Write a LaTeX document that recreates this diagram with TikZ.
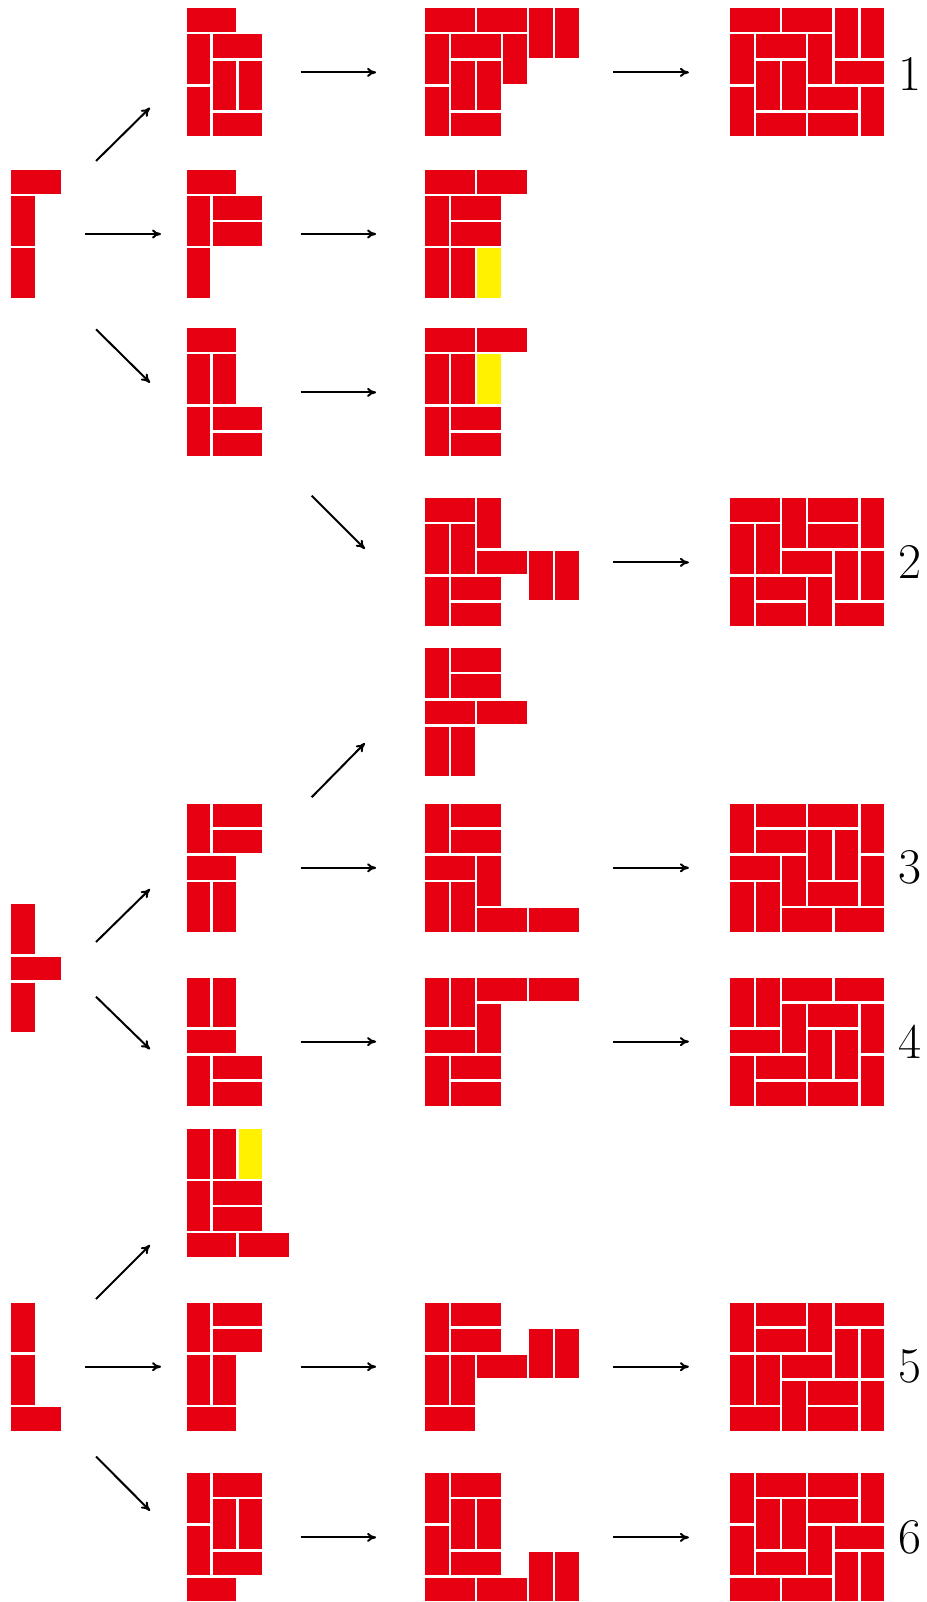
\documentclass[tikz,border=0pt]{standalone}
\usetikzlibrary{arrows.meta}
\definecolor{tred}{RGB}{230,0,18}
\definecolor{tyel}{RGB}{255,241,0}
\newcommand{\dins}{0.048}
\newcommand{\domH}[3][tred]{\fill[#1] (#2+\dins,#3+\dins) rectangle (#2+2-\dins,#3+1-\dins);}
\newcommand{\domV}[3][tred]{\fill[#1] (#2+\dins,#3+\dins) rectangle (#2+1-\dins,#3+2-\dins);}
\tikzset{
  tilegrid/.style 2 args={shift={(#1,#2)},x=26.1pt,y=-26.1pt},
  arr/.style={line width=2pt,-{To[length=9pt,width=9pt]}},
  lbl/.style={font=\fontsize{50}{60}\selectfont,inner sep=0pt,anchor=center},
}
\begin{document}
\begin{tikzpicture}[x=1pt,y=-1pt]
\useasboundingbox (0,0) rectangle (926,1602);
% ---------- group 1 ----------
\begin{scope}[tilegrid={9.75}{168.75}]
 \domH{0}{0}\domV{0}{1}\domV{0}{3}
\end{scope}
\begin{scope}[tilegrid={185.4}{7.1}]
 \domH{0}{0}\domV{0}{1}\domH{1}{1}\domV{1}{2}\domV{2}{2}\domV{0}{3}\domH{1}{4}
\end{scope}
\begin{scope}[tilegrid={185.4}{168.75}]
 \domH{0}{0}\domV{0}{1}\domH{1}{1}\domH{1}{2}\domV{0}{3}
\end{scope}
\begin{scope}[tilegrid={185.4}{327.1}]
 \domH{0}{0}\domV{0}{1}\domV{1}{1}\domV{0}{3}\domH{1}{3}\domH{1}{4}
\end{scope}
\begin{scope}[tilegrid={423.7}{7.1}]
 \domH{0}{0}\domV{0}{1}\domH{1}{1}\domV{1}{2}\domV{2}{2}\domV{0}{3}\domH{1}{4}
 \domH{2}{0}\domV{3}{1}\domV{4}{0}\domV{5}{0}
\end{scope}
\begin{scope}[tilegrid={423.7}{168.75}]
 \domH{0}{0}\domH{2}{0}\domV{0}{1}\domH{1}{1}\domH{1}{2}\domV{0}{3}\domV{1}{3}\domV[tyel]{2}{3}
\end{scope}
\begin{scope}[tilegrid={423.7}{327.1}]
 \domH{0}{0}\domH{2}{0}\domV{0}{1}\domV{1}{1}\domV[tyel]{2}{1}\domV{0}{3}\domH{1}{3}\domH{1}{4}
\end{scope}
\begin{scope}[tilegrid={728.9}{7.1}]
 \domH{0}{0}\domH{2}{0}\domV{4}{0}\domV{5}{0}\domV{0}{1}\domH{1}{1}\domV{3}{1}\domH{4}{2}
 \domV{1}{2}\domV{2}{2}\domV{0}{3}\domH{3}{3}\domV{5}{3}\domH{1}{4}\domH{3}{4}
\end{scope}
\begin{scope}[tilegrid={423.7}{497.1}]
 \domH{0}{0}\domV{2}{0}\domV{0}{1}\domV{1}{1}\domH{2}{2}\domV{4}{2}\domV{5}{2}\domV{0}{3}\domH{1}{3}\domH{1}{4}
\end{scope}
\begin{scope}[tilegrid={728.9}{497.1}]
 \domH{0}{0}\domV{2}{0}\domH{3}{0}\domV{5}{0}\domV{0}{1}\domV{1}{1}\domH{3}{1}\domH{2}{2}
 \domV{4}{2}\domV{5}{2}\domV{0}{3}\domH{1}{3}\domV{3}{3}\domH{1}{4}\domH{4}{4}
\end{scope}
% ---------- group 2 ----------
\begin{scope}[tilegrid={423.7}{647.1}]
 \domV{0}{0}\domH{1}{0}\domH{1}{1}\domH{0}{2}\domH{2}{2}\domV{0}{3}\domV{1}{3}
\end{scope}
\begin{scope}[tilegrid={9.75}{903.1}]
 \domV{0}{0}\domH{0}{2}\domV{0}{3}
\end{scope}
\begin{scope}[tilegrid={185.4}{802.5}]
 \domV{0}{0}\domH{1}{0}\domH{1}{1}\domH{0}{2}\domV{0}{3}\domV{1}{3}
\end{scope}
\begin{scope}[tilegrid={423.7}{802.5}]
 \domV{0}{0}\domH{1}{0}\domH{1}{1}\domH{0}{2}\domV{2}{2}\domV{0}{3}\domV{1}{3}\domH{2}{4}\domH{4}{4}
\end{scope}
\begin{scope}[tilegrid={728.9}{802.5}]
 \domV{0}{0}\domH{1}{0}\domH{3}{0}\domV{5}{0}\domH{1}{1}\domV{3}{1}\domV{4}{1}\domH{0}{2}
 \domV{2}{2}\domV{5}{2}\domV{0}{3}\domV{1}{3}\domH{3}{3}\domH{2}{4}\domH{4}{4}
\end{scope}
\begin{scope}[tilegrid={185.4}{976.3}]
 \domV{0}{0}\domV{1}{0}\domH{0}{2}\domV{0}{3}\domH{1}{3}\domH{1}{4}
\end{scope}
\begin{scope}[tilegrid={423.7}{976.3}]
 \domV{0}{0}\domV{1}{0}\domH{2}{0}\domH{4}{0}\domV{2}{1}\domH{0}{2}\domV{0}{3}\domH{1}{3}\domH{1}{4}
\end{scope}
\begin{scope}[tilegrid={728.9}{976.3}]
 \domV{0}{0}\domV{1}{0}\domH{2}{0}\domH{4}{0}\domV{2}{1}\domH{3}{1}\domV{5}{1}\domH{0}{2}
 \domV{3}{2}\domV{4}{2}\domV{0}{3}\domH{1}{3}\domV{5}{3}\domH{1}{4}\domH{3}{4}
\end{scope}
% ---------- group 3 ----------
\begin{scope}[tilegrid={185.4}{1127.8}]
 \domV{0}{0}\domV{1}{0}\domV[tyel]{2}{0}\domV{0}{2}\domH{1}{2}\domH{1}{3}\domH{0}{4}\domH{2}{4}
\end{scope}
\begin{scope}[tilegrid={9.75}{1301.4}]
 \domV{0}{0}\domV{0}{2}\domH{0}{4}
\end{scope}
\begin{scope}[tilegrid={185.4}{1301.4}]
 \domV{0}{0}\domH{1}{0}\domH{1}{1}\domV{0}{2}\domV{1}{2}\domH{0}{4}
\end{scope}
\begin{scope}[tilegrid={423.7}{1301.4}]
 \domV{0}{0}\domH{1}{0}\domH{1}{1}\domV{4}{1}\domV{5}{1}\domV{0}{2}\domV{1}{2}\domH{2}{2}\domH{0}{4}
\end{scope}
\begin{scope}[tilegrid={728.9}{1301.4}]
 \domV{0}{0}\domH{1}{0}\domV{3}{0}\domH{4}{0}\domH{1}{1}\domV{4}{1}\domV{5}{1}\domV{0}{2}
 \domV{1}{2}\domH{2}{2}\domV{2}{3}\domH{3}{3}\domV{5}{3}\domH{0}{4}\domH{3}{4}
\end{scope}
\begin{scope}[tilegrid={185.4}{1472.1}]
 \domV{0}{0}\domH{1}{0}\domV{1}{1}\domV{2}{1}\domV{0}{2}\domH{1}{3}\domH{0}{4}
\end{scope}
\begin{scope}[tilegrid={423.7}{1472.1}]
 \domV{0}{0}\domH{1}{0}\domV{1}{1}\domV{2}{1}\domV{0}{2}\domH{1}{3}\domH{0}{4}\domH{2}{4}\domV{4}{3}\domV{5}{3}
\end{scope}
\begin{scope}[tilegrid={728.9}{1472.1}]
 \domV{0}{0}\domH{1}{0}\domH{3}{0}\domV{5}{0}\domV{1}{1}\domV{2}{1}\domH{3}{1}\domV{0}{2}
 \domV{3}{2}\domH{4}{2}\domH{1}{3}\domV{4}{3}\domV{5}{3}\domH{0}{4}\domH{2}{4}
\end{scope}
% ---------- arrow end points ----------
\coordinate (g1us) at (96,161);    \coordinate (g1ue) at (150,107.7);
\coordinate (g1rs) at (85,234);    \coordinate (g1re) at (161,234);
\coordinate (g1ds) at (96,329.3);  \coordinate (g1de) at (150,382.7);
\coordinate (r1bs) at (300.5,72.4);  \coordinate (r1be) at (376.1,72.4);
\coordinate (r1cs) at (613.3,72.4);  \coordinate (r1ce) at (688.9,72.4);
\coordinate (r2bs) at (300.5,234);   \coordinate (r2be) at (376.1,234);
\coordinate (r3bs) at (300.5,392.4); \coordinate (r3be) at (376.1,392.4);
\coordinate (r3ds) at (311.7,495.7); \coordinate (r3de) at (364.9,548.9);
\coordinate (q2cs) at (613.3,562.4); \coordinate (q2ce) at (688.9,562.4);
\coordinate (g2us) at (96,942);    \coordinate (g2ue) at (150,889);
\coordinate (g2ds) at (96,996.7);  \coordinate (g2de) at (150,1049.3);
\coordinate (s3us) at (311.7,797.2); \coordinate (s3ue) at (364.9,743.1);
\coordinate (s3bs) at (300.5,867.8); \coordinate (s3be) at (376.1,867.8);
\coordinate (s3cs) at (613.3,867.8); \coordinate (s3ce) at (688.9,867.8);
\coordinate (s4bs) at (300.5,1041.6); \coordinate (s4be) at (376.1,1041.6);
\coordinate (s4cs) at (613.3,1041.6); \coordinate (s4ce) at (688.9,1041.6);
\coordinate (g3us) at (96,1299);   \coordinate (g3ue) at (150,1245);
\coordinate (g3rs) at (85,1366.7); \coordinate (g3re) at (161,1366.7);
\coordinate (g3ds) at (96,1456.5); \coordinate (g3de) at (150,1510.7);
\coordinate (s5bs) at (300.5,1366.7); \coordinate (s5be) at (376.1,1366.7);
\coordinate (s5cs) at (613.3,1366.7); \coordinate (s5ce) at (688.9,1366.7);
\coordinate (s6bs) at (300.5,1537.4); \coordinate (s6be) at (376.1,1537.4);
\coordinate (s6cs) at (613.3,1537.4); \coordinate (s6ce) at (688.9,1537.4);
% ---------- arrows ----------
\foreach \a in {g1u,g1r,g1d,r1b,r1c,r2b,r3b,r3d,q2c,g2u,g2d,s3u,s3b,s3c,s4b,s4c,g3u,g3r,g3d,s5b,s5c,s6b,s6c}
  \draw[arr] (\a s) -- (\a e);
% ---------- labels ----------
\node[lbl] (n1) at (910,74) {1};
\node[lbl] (n2) at (910,562.4) {2};
\node[lbl] (n3) at (910,867.8) {3};
\node[lbl] (n4) at (910,1041.6) {4};
\node[lbl] (n5) at (910,1366.7) {5};
\node[lbl] (n6) at (910,1537.4) {6};
\end{tikzpicture}
\end{document}
